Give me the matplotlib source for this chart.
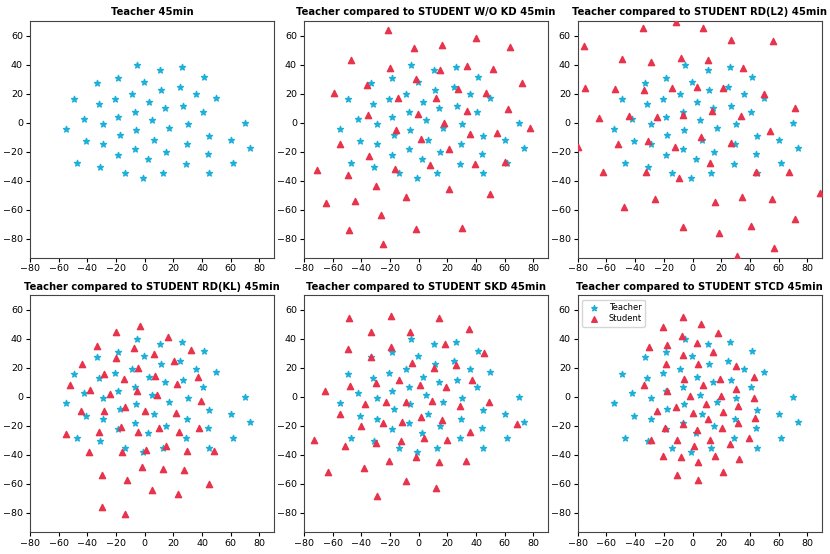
import matplotlib
matplotlib.use('Agg')
import matplotlib.pyplot as plt

# teacher embedding (same in every panel)
teacher_x = [-5.5, 10.5, 26, 41.5, -33, -18.5, -0.5, 11.5, 24.5, 36, 50, -49, -20.5, -8.5, -32, 3, 14.5,
             26.5, -7, 40.5, -42, -18.5, 5, 70, -55, -29, 30, -6, 17, -17.5, 45, -41, 6.5, -29, 29.5,
             60.5, 73.5, -7, 15, -18.5, 44, 2.5, -47, 29, 61.5, -31, -14, 13, 45, -1]
teacher_y = [40, 36.5, 38, 31.5, 27.5, 31, 28, 22.5, 24.5, 19.5, 17, 16, 16.5, 19.5, 13, 14, 10,
             11.5, 7, 7, 2.5, 4, 1.5, 0, -4.5, -1, -1, -5, -3.5, -8.5, -9, -13, -12, -15, -15,
             -12, -17.5, -18, -20, -22, -21.5, -25, -28, -28.5, -28, -30.5, -35, -35, -35, -38]

wokd_x = [-21, 40, 16.5, -3.5, 64, -47, 33.5, -20, 15, 52, -2, -36, 72, 27.5, -59, 47, -14.5, 12,
          62, 34, -35.5, -0.5, 18, 77.5, -16, 36, 54.5, -55, 2, 21.5, -34.5, 39, 60.5, 8, -71, -49,
          -16.5, -29.5, 21.5, -8.5, 50, -44, -64.5, -26, -48.5, -2, 30, -24.5]
wokd_y = [64, 58, 53.5, 51.5, 52, 43, 39, 37.5, 36, 37, 30, 26, 27.5, 23, 20.5, 20.5, 17, 17,
          9.5, 8, 5.5, 6, 0, -4, -5, -8, -7.5, -14.5, -11.5, -18, -23, -28.5, -27, -29.5, -33, -36,
          -32, -44, -46, -51, -49.5, -54, -55.5, -63.5, -74, -73, -72.5, -84]

rdl2_x = [-11.5, -34.5, 7.5, -75.5, 27, 56, -49.5, -8, 10.5, -29, 35.5, -75, -54, -33.5, -14.5, 3,
          21.5, 49.5, 71.5, 13.5, -7, 33.5, -65, -44.5, -25, 54, 6, -80, -52, -31, -12, 26.5, 12,
          -62.5, -32.5, 44.5, 67.5, -9.5, 89, 34.5, -26.5, 15.5, 55.5, -47.5, -6.5, 41, 71.5, 18.5,
          56.5, 31]
rdl2_y = [69.5, 65, 65, 52.5, 57, 56, 44, 44.5, 43, 41.5, 37.5, 24, 23, 22.5, 24, 24.5,
          24, 19.5, 10, 8, 5.5, 4.5, 3, 4.5, 4, -5.5, -10, -17, -15, -13, -16.5, -14, -27.5,
          -34, -34, -34, -34, -38.5, -48.5, -51, -53, -54.5, -53, -58, -72, -71.5, -66.5, -76,
          -86.5, -92]

rdkl_x = [-3.5, -20, 16, -33.5, -7.5, 32.5, 6.5, -20, 20.5, -43.5, -4.5, -28.5, 7.5, 37.5, -14.5,
          22.5, -52, -38, -5.5, -24, 8.5, 39, -44.5, -28.5, -13.5, 0, 22, -16.5, 10, 38, -55, -31.5,
          -4.5, 24, -39, -16, 1, 15, 29.5, 48, -2, 12.5, 27.5, -30, -12, 45, 5, 23.5, -30, -13.5]
rdkl_y = [49, 44.5, 41.5, 35, 34, 32, 29.5, 26.5, 24.5, 22.5, 20, 16, 14.5, 13.5, 12.5,
          9, 8, 5, 4, 2, 1, -3, -9.5, -10, -7, -9.5, -11, -21, -21.5, -21.5, -25.5, -24,
          -24, -24, -38, -38, -36.5, -34, -37, -37.5, -48.5, -50, -50.5, -53.5, -57.5, -60, -64.5, -67, -76, -80.5]

skd_x = [-48.5, -19.5, 14.5, 35, -33, -6, 18.5, -19, -49, 45.5, -33.5, -4.5, 26, 10.5, -14, 37.5,
         -30, -48, 1, 19, -65.5, -37.5, -22.5, -8.5, 9.5, 28.5, 49, -55, 2, -25, -11.5, 16.5, 68.5,
         -40, 36, 3.5, -73, -30, -12.5, 20, -51.5, -2, -20.5, 14, 33, -63, -38, -9, 12, -29]
skd_y = [54.5, 56, 54.5, 46.5, 44.5, 44.5, 36.5, 34.5, 33, 30.5, 27.5, 23.5, 22, 20, 11.5, 12,
         9.5, 7.5, 8, 7, 4, -5, -3.5, -3.5, -3, -6, -3.5, -11.5, -14, -18, -17, -16, -19,
         -20, -24, -28, -29.5, -31.5, -30.5, -29.5, -34, -41.5, -44.5, -45, -44.5, -51.5, -49, -58, -63, -68]

stcd_x = [-6.5, 6, -20.5, 17.5, -7.5, 3, -17.5, -30.5, 14.5, -7, -18.5, 4, 30.5, 42.5, -6, 19, 7,
          -33.5, 30, -18, -2, 19.5, 43, 9.5, 32, -11.5, -25, 21.5, 0.5, 43.5, 11, -7, 31.5, -19,
          20.5, 3, -29, -10.5, 12.5, 39, 1, 26, -20.5, -8, 15.5, 32.5, 4, 21.5, -11, 4]
stcd_y = [55, 50, 48.5, 44, 42, 37, 36, 34.5, 31, 29, 23, 23, 21.5, 13.5, 12.5, 12.5, 8,
          8, 5.5, 4, 0.5, 0.5, -0.5, -5, -6, -7, -9.5, -10.5, -11, -14.5, -15.5, -18.5, -18, -21.5,
          -21.5, -23, -29.5, -30, -29.5, -28.5, -34, -32.5, -41, -41.5, -41, -43, -45, -52, -53.5, -57.5]

titles = ['Teacher 45min',
          'Teacher compared to STUDENT W/O KD 45min',
          'Teacher compared to STUDENT RD(L2) 45min',
          'Teacher compared to STUDENT RD(KL) 45min',
          'Teacher compared to STUDENT SKD 45min',
          'Teacher compared to STUDENT STCD 45min']
students = [None, (wokd_x, wokd_y), (rdl2_x, rdl2_y), (rdkl_x, rdkl_y), (skd_x, skd_y), (stcd_x, stcd_y)]

teacher_color = '#1cb0d8'
student_color = '#e8334c'

fig, axes = plt.subplots(2, 3, figsize=(8.3, 5.54), dpi=100)
plt.subplots_adjust(left=0.036, right=0.990, bottom=0.040, top=0.962, wspace=0.123, hspace=0.16)

for ax, title, stu in zip(axes.flat, titles, students):
    ax.scatter(teacher_x, teacher_y, marker='*', s=20, color=teacher_color, label='Teacher', zorder=3)
    if stu is not None:
        ax.scatter(stu[0], stu[1], marker='^', s=20, color=student_color, label='Student', zorder=3)
    ax.set_xlim(-80, 90)
    ax.set_ylim(-93, 70)
    ax.set_xticks(range(-80, 81, 20))
    ax.set_yticks(range(-80, 61, 20))
    ax.tick_params(labelsize=6.8, length=3, pad=2)
    ax.set_title(title, fontsize=7.2, fontweight='bold', pad=4)
    for sp in ax.spines.values():
        sp.set_color('#444444')

axes[1, 2].legend(loc='upper left', fontsize=6, handletextpad=0.8, borderpad=0.4,
                  labelspacing=0.3, markerscale=0.9)

plt.savefig('out.png', dpi=100)
